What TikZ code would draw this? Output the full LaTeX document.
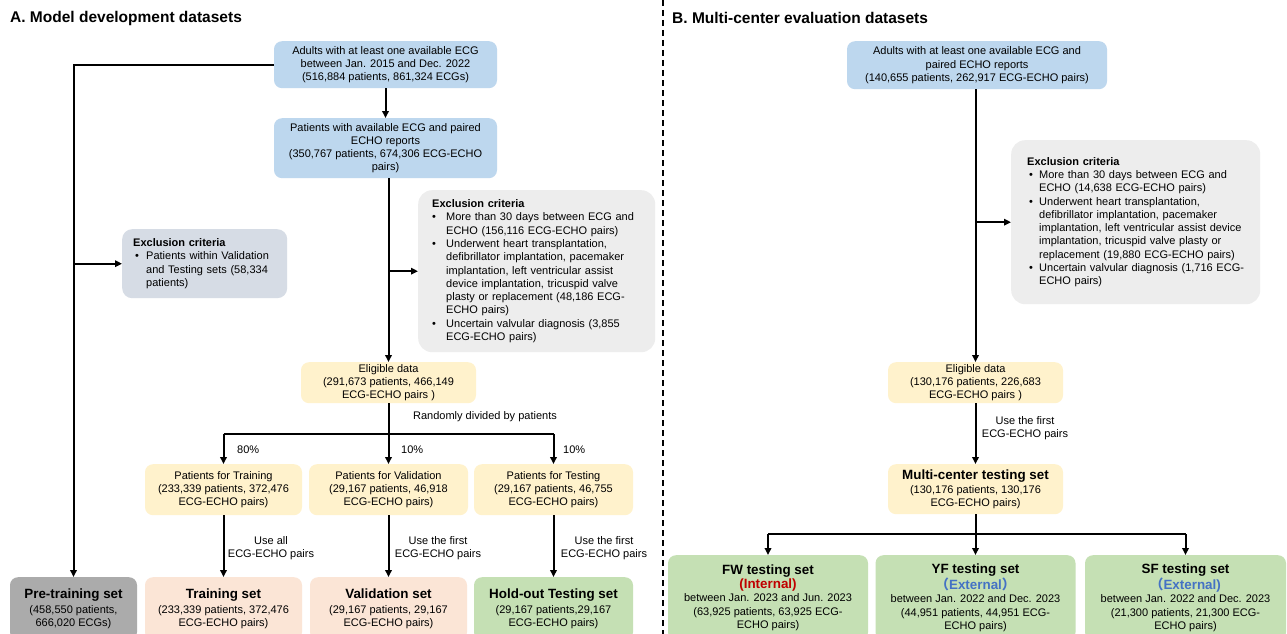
\documentclass[tikz,border=0pt]{standalone}
\usepackage{fontspec}
\setmainfont{Liberation Sans}
\newfontfamily\cjkfont{Noto Sans CJK SC}
\usetikzlibrary{arrows.meta}
\definecolor{cblue}{HTML}{BDD7EE}
\definecolor{cyel}{HTML}{FFF2CC}
\definecolor{cpeach}{HTML}{FBE5D6}
\definecolor{cgreen}{HTML}{C5E0B4}
\definecolor{cgrey}{HTML}{ABABAB}
\definecolor{cexA}{HTML}{EDEDED}
\definecolor{cexS}{HTML}{D6DCE5}
\definecolor{cred}{HTML}{C00000}
\definecolor{cextb}{HTML}{4472C4}
\newcommand{\normfont}{\fontsize{11}{13.3}\selectfont}
\newcommand{\tbf}{\fontsize{13.4}{15}\selectfont\bfseries}
\newcommand{\bul}{\makebox[14pt][l]{•}}
\newcommand{\ind}{\hspace*{14pt}}
\begin{document}
\begin{tikzpicture}[x=1pt,y=-1pt,
  box/.style={rounded corners=8pt, align=center, inner sep=0pt, font=\normfont, anchor=north},
  exbox/.style={rounded corners=14pt, align=left, inner ysep=0pt, font=\normfont, anchor=north west},
  conn/.style={line width=2pt, black},
  arr/.style={conn, -{Triangle[length=7pt,width=6.5pt]}},
  lbl/.style={font=\normfont, inner sep=0pt, align=center},
  ttl/.style={font=\fontsize{15.5}{18}\selectfont\bfseries, inner sep=0pt, anchor=west}]
\clip (0,0) rectangle (1287,634);
\useasboundingbox (0,0) rectangle (1287,634);
\fill[white] (0,0) rectangle (1287,634);

% titles and separator
\node[ttl] (tA) at (10,18) {A. Model development datasets};
\node[ttl] (tB) at (672,18) {B. Multi-center evaluation datasets};
\draw[line width=1.8pt, dash pattern=on 6pt off 4pt] (663,0) -- (663,634);

% ---------- A ----------
\node[box, fill=cblue, minimum width=223pt, minimum height=47pt] (b1) at (385.5,41)
  {Adults with at least one available ECG\\between Jan. 2015 and Dec. 2022\\(516,884 patients, 861,324 ECGs)};
\node[box, fill=cblue, minimum width=223pt, minimum height=60pt] (b2) at (385.5,118)
  {Patients with available ECG and paired\\ECHO reports\\(350,767 patients, 674,306 ECG-ECHO\\pairs)};
\node[exbox, fill=cexA, text width=209pt, inner xsep=14pt, minimum height=162pt] (exA) at (418,190)
  {{\bfseries Exclusion criteria}\\
   \bul More than 30 days between ECG and\\
   \ind ECHO (156,116 ECG-ECHO pairs)\\
   \bul Underwent heart transplantation,\\
   \ind defibrillator implantation, pacemaker\\
   \ind implantation, left ventricular assist\\
   \ind device implantation, tricuspid valve\\
   \ind plasty or replacement (48,186 ECG-\\
   \ind ECHO pairs)\\
   \bul Uncertain valvular diagnosis (3,855\\
   \ind ECG-ECHO pairs)};
\node[exbox, rounded corners=10pt, fill=cexS, text width=143pt, inner xsep=11pt, minimum height=69pt] (exS) at (122,229)
  {{\bfseries Exclusion criteria}\\
   \makebox[13pt][l]{\hspace{2pt}•}Patients within Validation\\
   \hspace*{13pt}and Testing sets (58,334\\
   \hspace*{13pt}patients)};
\node[box, fill=cyel, minimum width=175pt, minimum height=41pt] (elig) at (388.5,362)
  {Eligible data\\(291,673 patients, 466,149\\ECG-ECHO pairs )};
\node[box, fill=cyel, minimum width=157pt, minimum height=51pt] (ptrain) at (223.5,464)
  {Patients for Training\\(233,339 patients, 372,476\\ECG-ECHO pairs)};
\node[box, fill=cyel, minimum width=159pt, minimum height=51pt] (pval) at (388.5,464)
  {Patients for Validation\\(29,167 patients, 46,918\\ECG-ECHO pairs)};
\node[box, fill=cyel, minimum width=159pt, minimum height=51pt] (ptest) at (553.5,464)
  {Patients for Testing\\(29,167 patients, 46,755\\ECG-ECHO pairs)};
\node[box, fill=cgrey, minimum width=127pt, minimum height=63pt] (pre) at (73.5,577)
  {{\tbf Pre-training set}\\[2pt](458,550 patients,\\666,020 ECGs)};
\node[box, fill=cpeach, minimum width=157pt, minimum height=63pt] (train) at (223.5,577)
  {{\tbf Training set}\\[2pt](233,339 patients, 372,476\\ECG-ECHO pairs)};
\node[box, fill=cpeach, minimum width=157pt, minimum height=63pt] (val) at (388.5,577)
  {{\tbf Validation set}\\[2pt](29,167 patients, 29,167\\ECG-ECHO pairs)};
\node[box, fill=cgreen, minimum width=159pt, minimum height=63pt] (hold) at (553.5,577)
  {{\tbf Hold-out Testing set}\\[2pt](29,167 patients,29,167\\ECG-ECHO pairs)};

\coordinate (splitA) at (388.5,434);
\draw[arr] (b1) -- (b2);
\draw[conn] (elig.north |- b2.south) -- (elig.north |- exA.west);
\draw[arr] (elig.north |- exA.west) -- (exA.west);
\draw[arr] (elig.north |- exA.west) -- (elig.north);
\draw[conn] (b1.west) -| (pre.north |- exS.west);
\draw[arr] (pre.north |- exS.west) -- (exS.west);
\draw[arr] (pre.north |- exS.west) -- (pre.north);
\draw[conn] (elig.south) -- (splitA);
\draw[conn] (ptrain.north |- splitA) -- (ptest.north |- splitA);
\draw[arr] (ptrain.north |- splitA) -- (ptrain.north);
\draw[arr] (splitA) -- (pval.north);
\draw[arr] (ptest.north |- splitA) -- (ptest.north);
\draw[arr] (ptrain.south) -- (train.north);
\draw[arr] (pval.south) -- (val.north);
\draw[arr] (ptest.south) -- (hold.north);

\node[lbl] (rand) at (485,417) {Randomly divided by patients};
\node[lbl, anchor=west] (p80) at (237,450) {80\%};
\node[lbl, anchor=west] (p10a) at (401,450) {10\%};
\node[lbl, anchor=west] (p10b) at (563,450) {10\%};
\node[lbl] (useall) at (271,548) {Use all\\ECG-ECHO pairs};
\node[lbl] (usev) at (438,548) {Use the first\\ECG-ECHO pairs};
\node[lbl] (uset) at (604,548) {Use the first\\ECG-ECHO pairs};

% ---------- B ----------
\node[box, fill=cblue, minimum width=260pt, minimum height=48pt] (bB1) at (977,41)
  {Adults with at least one available ECG and\\paired ECHO reports\\(140,655 patients, 262,917 ECG-ECHO pairs)};
\node[exbox, fill=cexA, text width=217pt, inner xsep=16pt, minimum height=164pt] (exB) at (1011,140)
  {{\bfseries Exclusion criteria}\\
   \makebox[12pt][l]{\hspace{2pt}•}More than 30 days between ECG and\\
   \hspace*{12pt}ECHO (14,638 ECG-ECHO pairs)\\
   \makebox[12pt][l]{\hspace{2pt}•}Underwent heart transplantation,\\
   \hspace*{12pt}defibrillator implantation, pacemaker\\
   \hspace*{12pt}implantation, left ventricular assist device\\
   \hspace*{12pt}implantation, tricuspid valve plasty or\\
   \hspace*{12pt}replacement (19,880 ECG-ECHO pairs)\\
   \makebox[12pt][l]{\hspace{2pt}•}Uncertain valvular diagnosis (1,716 ECG-\\
   \hspace*{12pt}ECHO pairs)};
\node[box, fill=cyel, minimum width=175pt, minimum height=41pt] (eligB) at (975.5,362)
  {Eligible data\\(130,176 patients, 226,683\\ECG-ECHO pairs )};
\node[box, fill=cyel, minimum width=175pt, minimum height=50pt] (multi) at (975.5,464)
  {{\tbf Multi-center testing set}\\[1pt](130,176 patients, 130,176\\ECG-ECHO pairs)};
\node[box, fill=cgreen, minimum width=200pt, minimum height=85pt] (fw) at (768,555)
  {{\tbf FW testing set}\\[1pt]{\tbf\color{cred}(Internal)}\\between Jan. 2023 and Jun. 2023\\(63,925 patients, 63,925 ECG-\\ECHO pairs)};
\node[box, fill=cgreen, minimum width=200pt, minimum height=85pt] (yf) at (975.5,555)
  {{\tbf YF testing set}\\[1pt]{\tbf\color{cextb}{\cjkfont （}External{\cjkfont ）}}\\between Jan. 2022 and Dec. 2023\\(44,951 patients, 44,951 ECG-\\ECHO pairs)};
\node[box, fill=cgreen, minimum width=201pt, minimum height=85pt] (sf) at (1185.5,555)
  {{\tbf SF testing set}\\[1pt]{\tbf\color{cextb}{\cjkfont （}External)}\\between Jan. 2022 and Dec. 2023\\(21,300 patients, 21,300 ECG-\\ECHO pairs)};

\coordinate (splitB) at (975.5,534);
\draw[conn] (eligB.north |- bB1.south) -- (eligB.north |- exB.west);
\draw[arr] (eligB.north |- exB.west) -- (exB.west);
\draw[arr] (eligB.north |- exB.west) -- (eligB.north);
\draw[arr] (eligB.south) -- (multi.north);
\draw[conn] (multi.south) -- (splitB);
\draw[conn] (fw.north |- splitB) -- (sf.north |- splitB);
\draw[arr] (fw.north |- splitB) -- (fw.north);
\draw[arr] (splitB) -- (yf.north);
\draw[arr] (sf.north |- splitB) -- (sf.north);
\node[lbl] (useB) at (1025,428) {Use the first\\ECG-ECHO pairs};
\end{tikzpicture}
\end{document}
